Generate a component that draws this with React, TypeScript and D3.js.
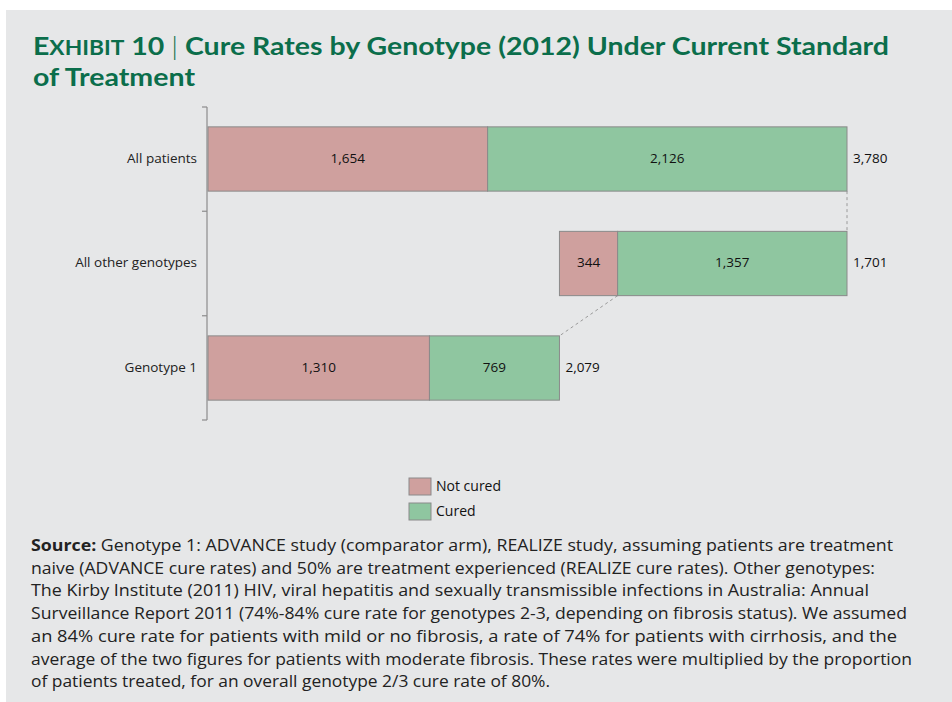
import React from "react";
import * as d3 from "d3";

const categories = ["All patients", "All other genotypes", "Genotype 1"];
const notCured = [1654, 344, 1310];
const cured = [2126, 1357, 769];
const offsets = [0, 2079, 0];
const seriesNames = ["Not cured", "Cured"];
const titleLines = [
  "Cure Rates by Genotype (2012) Under Current Standard",
  "of Treatment",
];
const sourceLines = [
  "Genotype 1: ADVANCE study (comparator arm), REALIZE study, assuming patients are treatment",
  "naive (ADVANCE cure rates) and 50% are treatment experienced (REALIZE cure rates). Other genotypes:",
  "The Kirby Institute (2011) HIV, viral hepatitis and sexually transmissible infections in Australia: Annual",
  "Surveillance Report 2011 (74%-84%  cure rate for genotypes 2-3, depending on fibrosis status). We assumed",
  "an 84% cure rate for patients with mild or no fibrosis, a rate of 74% for patients with cirrhosis, and the",
  "average of the two figures for patients with moderate fibrosis. These rates were multiplied by the proportion",
  "of patients treated, for an overall genotype 2/3 cure rate of 80%.",
];
const sourceWidths = [862, 844, 838, 876, 866, 881, 519];

const W = 952;
const H = 702;
const COLORS = ["#cfa09e", "#8fc6a0"];
const GREEN = "#0b6e4b";
const FONT = "'Open Sans', 'Noto Sans', sans-serif";
const TITLE_FONT = "Lato, 'Open Sans', sans-serif";

export default function App() {
  const x = d3.scaleLinear().domain([0, 3780]).range([208, 847]);
  const y = d3
    .scaleBand<string>()
    .domain(categories)
    .range([107, 420])
    .paddingInner(0.385)
    .paddingOuter(0.19);
  const bw = y.bandwidth();
  const step = y.step();
  const fmt = d3.format(",");
  const tickYs = [
    107,
    ...categories.slice(0, -1).map((c) => (y(c) as number) + bw + (step - bw) / 2),
    420,
  ];

  const y0 = (i: number) => y(categories[i]) as number;

  return (
    <svg
      width={W}
      height={H}
      style={{ position: "absolute", left: 0, top: 0, display: "block" }}
    >
      <rect x={0} y={0} width={W} height={H} fill="#ffffff" />
      <rect x={6} y={10} width={W - 6} height={H - 10} fill="#e6e7e8" />

      {/* Title */}
      <text
        x={33}
        y={55}
        fill={GREEN}
        fontFamily={TITLE_FONT}
        fontWeight={700}
        fontSize={25}
        textLength={856}
        lengthAdjust="spacingAndGlyphs"
      >
        <tspan>E</tspan>
        <tspan fontSize={20}>XHIBIT</tspan>
        <tspan> 10 </tspan>
        <tspan fontWeight={300}>|</tspan>
        <tspan> {titleLines[0]}</tspan>
      </text>
      <text
        x={33}
        y={86}
        fill={GREEN}
        fontFamily={TITLE_FONT}
        fontWeight={700}
        fontSize={25}
        textLength={162}
        lengthAdjust="spacingAndGlyphs"
      >
        {titleLines[1]}
      </text>

      {/* Axis */}
      <line x1={207} x2={207} y1={107} y2={420} stroke="#8c8c8c" strokeWidth={1.2} />
      {tickYs.map((ty, i) => (
        <line key={i} x1={202} x2={207} y1={ty} y2={ty} stroke="#8c8c8c" strokeWidth={1.2} />
      ))}

      {/* Category labels */}
      {categories.map((c) => (
        <text
          key={c}
          x={197}
          y={(y(c) as number) + bw / 2}
          textAnchor="end"
          dominantBaseline="middle"
          fontFamily={FONT}
          fontSize={13.5}
          fill="#222"
        >
          {c}
        </text>
      ))}

      {/* Connector dashed lines */}
      <line
        x1={x(offsets[0] + notCured[0] + cured[0])}
        x2={x(offsets[1] + notCured[1] + cured[1])}
        y1={y0(0) + bw}
        y2={y0(1)}
        stroke="#9a9a9a"
        strokeWidth={1}
        strokeDasharray="3,3"
      />
      <line
        x1={x(offsets[1] + notCured[1])}
        x2={x(offsets[2] + notCured[2] + cured[2])}
        y1={y0(1) + bw}
        y2={y0(2)}
        stroke="#9a9a9a"
        strokeWidth={1}
        strokeDasharray="3,3"
      />

      {/* Bars */}
      {categories.map((c, i) => {
        const segs = [
          { v: notCured[i], start: offsets[i], color: COLORS[0] },
          { v: cured[i], start: offsets[i] + notCured[i], color: COLORS[1] },
        ];
        const total = notCured[i] + cured[i];
        return (
          <g key={c}>
            {segs.map((s, j) => (
              <g key={j}>
                <rect
                  x={x(s.start)}
                  y={y0(i)}
                  width={x(s.start + s.v) - x(s.start)}
                  height={bw}
                  fill={s.color}
                  stroke="#8a8a8a"
                  strokeWidth={1}
                />
                <text
                  x={(x(s.start) + x(s.start + s.v)) / 2}
                  y={y0(i) + bw / 2}
                  textAnchor="middle"
                  dominantBaseline="middle"
                  fontFamily={FONT}
                  fontSize={13.5}
                  fill="#111"
                >
                  {fmt(s.v)}
                </text>
              </g>
            ))}
            <text
              x={x(offsets[i] + total) + 6}
              y={y0(i) + bw / 2}
              dominantBaseline="middle"
              fontFamily={FONT}
              fontSize={13.5}
              fill="#111"
            >
              {fmt(total)}
            </text>
          </g>
        );
      })}

      {/* Legend */}
      {seriesNames.map((n, i) => (
        <g key={n}>
          <rect
            x={409}
            y={478 + i * 25}
            width={22}
            height={17}
            fill={COLORS[i]}
            stroke="#8a8a8a"
            strokeWidth={1}
          />
          <text
            x={436}
            y={478 + i * 25 + 9}
            dominantBaseline="middle"
            fontFamily={FONT}
            fontSize={14}
            fill="#111"
          >
            {n}
          </text>
        </g>
      ))}

      {/* Source */}
      {sourceLines.map((line, i) => (
        <text
          key={i}
          x={31}
          y={551 + i * 22.7}
          fontFamily={FONT}
          fontSize={16}
          fill="#222"
          textLength={sourceWidths[i]}
          lengthAdjust="spacingAndGlyphs"
        >
          {i === 0 ? (
            <>
              <tspan fontWeight={700}>Source:</tspan>
              <tspan> {line}</tspan>
            </>
          ) : (
            line
          )}
        </text>
      ))}
    </svg>
  );
}
